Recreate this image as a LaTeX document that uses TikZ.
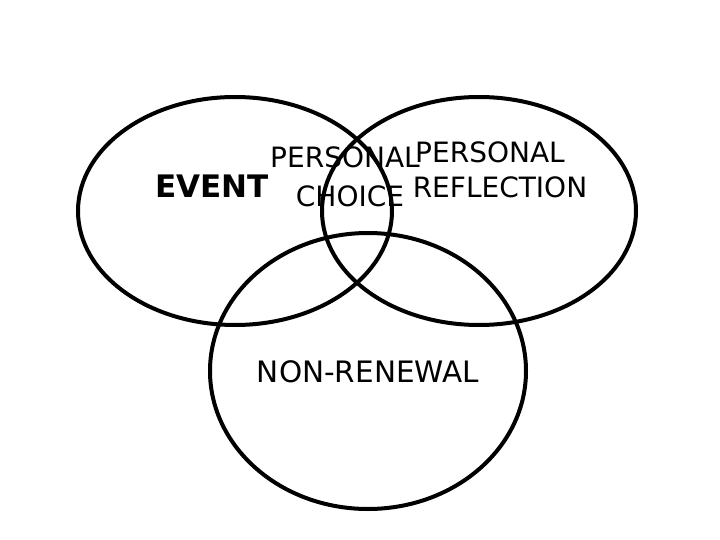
\documentclass[tikz,border=0pt]{standalone}
\usepackage{fontspec}
\setmainfont{DejaVu Sans}
\usetikzlibrary{shapes.geometric}

\begin{document}
\begin{tikzpicture}[
    x=1pt, y=-1pt,
    ring/.style={draw, ellipse, line width=4pt, minimum width=314pt,
        minimum height=228pt, inner sep=0pt},
    lbl/.style={font=\fontsize{28}{30}\selectfont, inner sep=0pt, align=center},
]
    \useasboundingbox (0,0) rectangle (720,540);

    % the three sets
    \node[ring] (event) at (235,211) {};
    \node[ring] (refl) at (479,211) {};
    \node[ring, minimum width=316pt, minimum height=276pt] (nonren) at (368,371) {};

    % labels
    \node[lbl, font=\bfseries\fontsize{31}{33}\selectfont] (evt) at (212,186) {EVENT};
    \node[lbl] (pers1) at (345,157) {PERSONAL};
    \node[lbl] (choice) at (350,196) {CHOICE};
    \node[lbl] (pers2) at (490,152) {PERSONAL};
    \node[lbl] (reflect) at (500,187) {REFLECTION};
    \node[lbl, font=\fontsize{29.5}{31}\selectfont] (nonrenew) at (368,372) {NON-RENEWAL};
\end{tikzpicture}
\end{document}
